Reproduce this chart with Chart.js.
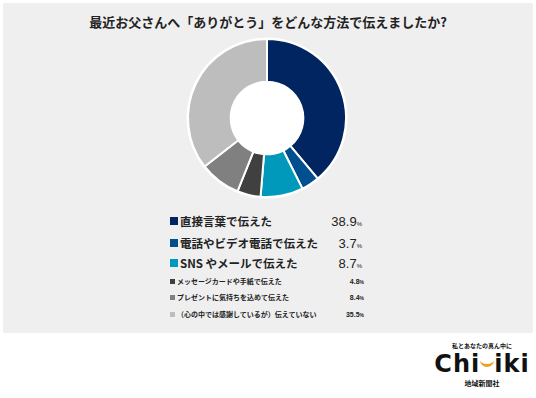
<!DOCTYPE html>
<html lang="ja">
<head>
<meta charset="UTF-8">
<title>最近お父さんへ「ありがとう」をどんな方法で伝えましたか?</title>
<script src="https://cdn.jsdelivr.net/npm/chart.js"></script>
<style>
    body {
        margin: 0;
        width: 536px;
        height: 398px;
        background: #ffffff;
        font-family: "Noto Sans CJK JP", "Noto Sans", sans-serif;
        position: relative;
        overflow: hidden;
    }

    .panel {
        position: absolute;
        left: 3px;
        top: 3px;
        width: 530px;
        height: 330px;
        background: #efefef;
    }

    h1 {
        position: absolute;
        left: 0;
        top: 13px;
        width: 536px;
        margin: 0;
        text-align: center;
        font-size: 13px;
        font-weight: bold;
        color: #222;
        line-height: 18px;
    }

    #donut {
        position: absolute;
        left: 185px;
        top: 36px;
    }

    .legend {
        position: absolute;
        left: 170px;
        top: 210px;
        width: 194px;
    }

    .row {
        position: absolute;
        left: 0;
        width: 194px;
        display: flex;
        align-items: center;
        color: #222;
        font-weight: bold;
    }

    .row .box {
        flex: none;
        margin-right: 2px;
    }

    .row .lab {
        flex: 1;
        white-space: nowrap;
    }

    .row .val {
        text-align: right;
        white-space: nowrap;
        font-family: "Liberation Sans", sans-serif;
    }

    .big { font-size: 11.5px; height: 16px; }
    .big .box { width: 8px; height: 8px; }
    .big .val { font-size: 13px; font-weight: normal; margin-right: 2px; }
    .big .val small { font-size: 6px; }

    .small { font-size: 7px; height: 10px; }
    .small .box { width: 5px; height: 5px; }
    .small .val { font-size: 7px; }
    .small .val small { font-size: 5px; }

    .logo {
        position: absolute;
        left: 432px;
        top: 342px;
        width: 100px;
        text-align: center;
        color: #111;
        font-weight: bold;
    }

    .logo .tag { font-size: 6px; line-height: 8px; }
    .logo .name {
        font-family: "DejaVu Sans", sans-serif;
        font-size: 24px;
        line-height: 28px;
        letter-spacing: 1px;
    }
    .logo .smile {
        display: inline-block;
        width: 14px;
        height: 8px;
        border-bottom: 3px solid #f0a020;
        border-radius: 0 0 10px 10px;
        vertical-align: 5px;
    }
    .logo .co { font-size: 7px; line-height: 10px; }
</style>
</head>
<body>
<div class="panel"></div>
<h1>最近お父さんへ「ありがとう」をどんな方法で伝えましたか?</h1>
<canvas id="donut" width="164" height="164"></canvas>
<div class="legend" id="legend"></div>

<div class="logo">
    <div class="tag">私とあなたの真ん中に</div>
    <div class="name">Chi<span class="smile"></span>iki</div>
    <div class="co">地域新聞社</div>
</div>

<script>
    // 回答項目と割合（%）
    const answers = [
        "直接言葉で伝えた",
        "電話やビデオ電話で伝えた",
        "SNS やメールで伝えた",
        "メッセージカードや手紙で伝えた",
        "プレゼントに気持ちを込めて伝えた",
        "（心の中では感謝しているが）伝えていない"
    ];
    const shares = [38.9, 3.7, 8.7, 4.8, 8.4, 35.5];
    const colors = ["#002561", "#00508f", "#0099bb", "#404040", "#808080", "#bdbdbd"];

    // 凡例の行位置
    const rowTops = [3, 25, 45, 66, 82, 99];

    const legend = document.getElementById("legend");
    answers.forEach((label, i) => {
        const row = document.createElement("div");
        row.className = "row " + (i < 3 ? "big" : "small");
        row.style.top = rowTops[i] + "px";
        row.innerHTML = `<span class="box" style="background:${colors[i]}"></span>` +
            `<span class="lab">${label}</span>` +
            `<span class="val">${shares[i].toFixed(1)}<small>%</small></span>`;
        legend.appendChild(row);
    });

    // ドーナツの下に白い円（外側の縁取りと中央の穴）
    const whiteDisc = {
        id: "whiteDisc",
        beforeDatasetsDraw(chart) {
            const arc = chart.getDatasetMeta(0).data[0];
            if (!arc) return;
            const ctx = chart.ctx;
            ctx.save();
            ctx.fillStyle = "#ffffff";
            ctx.beginPath();
            ctx.arc(arc.x, arc.y, arc.outerRadius + 1.5, 0, Math.PI * 2);
            ctx.fill();
            ctx.restore();
        }
    };

    new Chart(document.getElementById("donut").getContext("2d"), {
        type: "doughnut",
        data: {
            labels: answers,
            datasets: [{
                data: shares,
                backgroundColor: colors,
                borderColor: "#ffffff",
                borderWidth: 2
            }]
        },
        options: {
            responsive: false,
            animation: false,
            cutout: "46%",
            layout: { padding: 2 },
            plugins: {
                legend: { display: false },
                tooltip: { enabled: false }
            }
        },
        plugins: [whiteDisc]
    });
</script>
</body>
</html>
